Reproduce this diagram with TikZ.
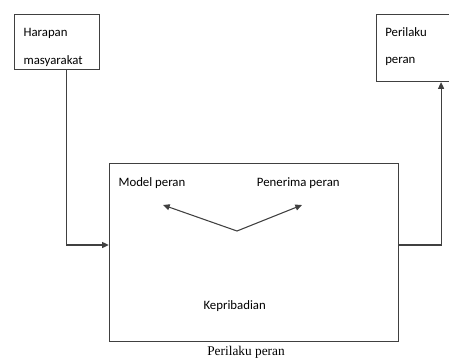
\documentclass[tikz,border=0pt]{standalone}
\usepackage{fontspec}
\setmainfont{Carlito}
\newfontfamily\serifteks{Liberation Serif}
\usetikzlibrary{arrows.meta,positioning}

\begin{document}
\begin{tikzpicture}[x=0.75pt, y=-0.75pt,
    kotak/.style={draw=black!75, line width=0.8pt, rectangle, anchor=north west, inner sep=0pt},
    teks/.style={anchor=base west, inner sep=0pt, font=\fontsize{9.6}{11}\selectfont},
    panah/.style={draw=black!75, line width=0.8pt, -{Triangle[length=5pt,width=4.5pt]}}]
    \useasboundingbox (0,0) rectangle (449,358);

    % kotak-kotak
    \node[kotak, minimum width=63.9pt, minimum height=41.5pt] (harapan) at (13.5,13.7) {};
    \node[kotak, minimum width=54.4pt, minimum height=50.5pt] (perilaku) at (376,13.7) {};
    \node[kotak, minimum width=216.7pt, minimum height=133.3pt] (utama) at (108.8,163.3) {};

    % teks dalam kotak
    \node[teks] (t1) at (23.3,36.7) {Harapan};
    \node[teks] (t2) at (23.3,64) {masyarakat};
    \node[teks] (t3) at (385,36.7) {Perilaku};
    \node[teks] (t4) at (385,63.3) {peran};
    \node[teks] (model) at (118.3,186.7) {Model peran};
    \node[teks] (penerima) at (256.7,186.7) {Penerima peran};
    \node[teks] (pribadi) at (203.3,309) {Kepribadian};
    \node[anchor=base, inner sep=0pt, font=\serifteks\fontsize{10}{12}\selectfont] (judul) at (246,355) {Perilaku peran};

    % panah penghubung
    \draw[panah] ([xshift=39.9pt]harapan.south west) |- (utama.west |- 0,245);
    \draw[panah] (utama.east |- 0,245) -| ([xshift=-6.4pt]perilaku.south east);

    % panah di dalam kotak
    \coordinate (sudut) at (237,231);
    \coordinate (ujungkiri) at (163,205);
    \coordinate (ujungkanan) at (302,205);
    \draw[panah] (sudut) -- (ujungkiri);
    \draw[panah] (sudut) -- (ujungkanan);
\end{tikzpicture}
\end{document}
